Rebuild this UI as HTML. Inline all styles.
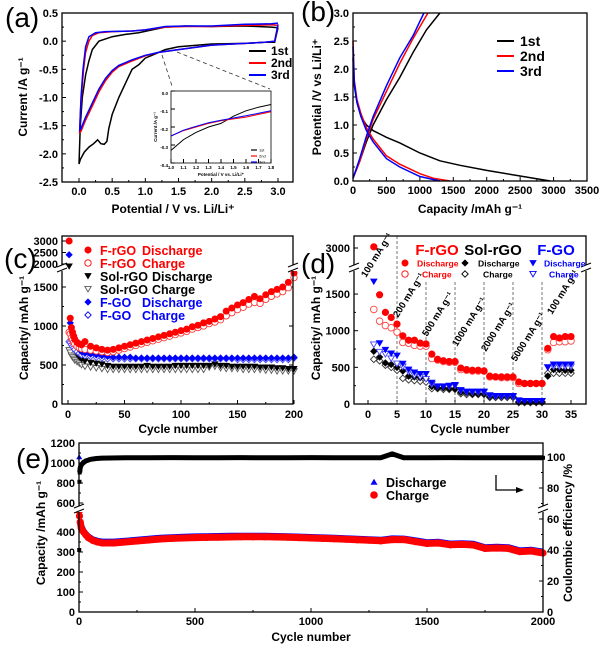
<!DOCTYPE html>
<html><head><meta charset="utf-8">
<style>
html,body{margin:0;padding:0;background:#fff;}
svg{display:block;font-family:"Liberation Sans",Arial,sans-serif;}
</style></head>
<body>
<svg id="chart" width="600" height="651" viewBox="0 0 600 651" xmlns="http://www.w3.org/2000/svg"></svg>
<script>
// ---------- Panel (a) CV data ----------
const cv1V=[3.0,2.95,2.8,2.5,2.0,1.5,1.3,1.1,1.0,0.9,0.8,0.7,0.6,0.5,0.45,0.42,0.38,0.33,0.28,0.22,0.15,0.08,0.02,0.0,0.02,0.05,0.1,0.15,0.2,0.3,0.5,0.7,0.9,1.1,1.3,1.6,2.0,2.5,2.9,3.0];
const cv1I=[0.24,-0.02,-0.02,-0.04,-0.05,-0.1,-0.15,-0.25,-0.3,-0.42,-0.5,-0.75,-1.0,-1.3,-1.55,-1.78,-1.83,-1.82,-1.75,-1.82,-1.88,-1.97,-2.1,-2.18,-1.5,-1.0,-0.6,-0.35,-0.15,0.0,0.08,0.12,0.15,0.2,0.25,0.27,0.26,0.27,0.25,0.24];
const cv2V=[3.0,2.95,2.8,2.5,2.0,1.5,1.2,1.0,0.8,0.6,0.5,0.4,0.3,0.2,0.1,0.03,0.01,0.02,0.04,0.07,0.1,0.15,0.2,0.3,0.5,0.8,1.0,1.3,1.6,2.0,2.5,2.9,3.0];
const cv2I=[0.28,0.0,-0.02,-0.04,-0.07,-0.15,-0.2,-0.26,-0.35,-0.45,-0.55,-0.7,-0.9,-1.15,-1.4,-1.6,-1.62,-1.3,-0.9,-0.5,-0.2,0.0,0.1,0.15,0.17,0.18,0.2,0.25,0.26,0.26,0.28,0.29,0.28];
const cv3V=[3.0,2.95,2.8,2.5,2.0,1.5,1.2,1.0,0.8,0.6,0.5,0.4,0.3,0.2,0.1,0.03,0.01,0.03,0.06,0.1,0.15,0.25,0.4,0.8,1.0,1.3,1.6,2.0,2.5,2.9,3.0];
const cv3I=[0.3,0.0,-0.02,-0.04,-0.07,-0.15,-0.2,-0.25,-0.33,-0.43,-0.52,-0.66,-0.85,-1.1,-1.35,-1.55,-1.58,-1.0,-0.5,-0.1,0.08,0.15,0.17,0.18,0.2,0.26,0.27,0.27,0.3,0.31,0.32];
const inV=[1.0,1.1,1.2,1.3,1.4,1.5,1.6,1.7,1.8];
const in1I=[-0.33,-0.27,-0.23,-0.2,-0.18,-0.14,-0.11,-0.09,-0.075];
const in2I=[-0.25,-0.22,-0.2,-0.18,-0.165,-0.155,-0.145,-0.13,-0.115];
const in3I=[-0.25,-0.218,-0.196,-0.176,-0.162,-0.15,-0.138,-0.124,-0.11];
// ---------- Panel (b) charge/discharge ----------
const b1dC=[0,20,60,120,200,300,500,700,1000,1300,1600,2000,2500,2950];
const b1dV=[2.2,1.7,1.4,1.15,1.0,0.9,0.78,0.68,0.5,0.36,0.28,0.19,0.09,0.0];
const b1cC=[0,100,200,300,500,700,900,1100,1300];
const b1cV=[0.05,0.35,0.7,1.0,1.45,1.85,2.3,2.7,3.0];
const b2dC=[0,20,60,120,200,300,500,700,1000,1200,1450];
const b2dV=[2.5,1.8,1.45,1.2,0.95,0.75,0.45,0.3,0.13,0.05,0.0];
const b2cC=[0,100,200,300,500,700,900,1120];
const b2cV=[0.05,0.35,0.75,1.1,1.6,2.1,2.55,3.0];
const b3dC=[0,20,60,120,200,300,500,700,1000,1300];
const b3dV=[2.4,1.75,1.4,1.15,0.9,0.7,0.4,0.25,0.08,0.0];
const b3cC=[0,100,200,300,500,700,900,1060];
const b3cV=[0.05,0.4,0.8,1.15,1.7,2.2,2.6,3.0];
// ---------- Panel (c) cycling ----------
const cCyc=[1,2,3,4,5,6,8,10,12,15,20,25,30,35,40,45,50,55,60,65,70,75,80,85,90,95,100,105,110,115,120,125,130,135,140,145,150,155,160,165,170,175,180,185,190,195,200];
const cFrD=[3000,1100,980,920,870,830,790,770,760,800,740,720,700,690,700,720,740,760,780,800,820,840,860,880,900,920,940,960,990,1010,1040,1060,1090,1120,1190,1230,1270,1300,1340,1380,1350,1400,1440,1470,1500,1560,1680];
const cFrC=[920,900,850,820,790,770,740,720,710,700,690,680,670,660,670,690,710,730,750,770,790,810,830,850,870,890,910,930,960,980,1000,1030,1050,1080,1130,1170,1210,1240,1280,1300,1290,1340,1380,1410,1440,1490,1620];
const cSoD=[1900,870,810,760,720,690,640,600,570,550,530,520,510,490,480,480,480,480,480,480,490,480,480,480,480,490,490,490,490,490,490,490,510,490,490,480,480,480,480,480,470,470,470,460,460,450,450];
const cSoC=[690,660,620,600,580,560,540,520,500,480,470,460,450,440,440,440,440,440,440,440,440,440,440,440,440,440,440,440,440,440,440,470,480,460,450,450,450,440,440,440,440,430,430,420,420,420,420];
const cFgD=[2400,1040,940,880,840,800,740,700,670,650,640,630,620,610,600,600,600,600,590,590,590,590,590,590,590,590,590,590,590,590,590,590,590,590,590,590,590,590,590,590,590,590,590,590,590,590,600];
const cFgC=[800,790,760,740,720,700,670,650,630,620,610,600,590,580,580,580,580,580,580,580,580,580,580,580,580,580,580,580,580,580,580,580,580,580,580,580,570,570,570,570,570,570,570,570,570,570,590];
// ---------- Panel (d) rate ----------
const dCyc=[1,2,3,4,5,6,7,8,9,10,11,12,13,14,15,16,17,18,19,20,21,22,23,24,25,26,27,28,29,30,31,32,33,34,35];
const dFrD=[3050,1490,1250,1180,1090,930,870,870,830,820,680,610,590,580,580,490,470,460,460,450,380,370,370,370,370,300,280,280,280,280,760,920,900,920,920];
const dFrC=[1290,1130,1070,1040,980,840,830,800,790,790,620,600,580,570,570,470,460,450,450,450,370,370,360,360,360,280,280,280,280,280,740,840,850,850,860];
const dSoD=[720,640,560,540,500,450,380,370,360,350,240,220,220,210,210,160,150,140,140,140,100,100,100,100,100,30,30,30,30,30,380,470,470,460,460];
const dSoC=[610,590,530,500,460,350,330,320,310,300,210,210,200,200,200,140,130,130,130,130,90,90,90,90,90,20,20,20,20,20,420,420,420,420,420];
const dFgD=[1670,830,740,690,660,550,470,430,410,410,290,240,240,250,260,190,170,170,170,170,120,110,110,110,110,50,40,40,40,40,500,540,540,540,540];
const dFgC=[810,710,680,620,550,510,440,390,370,340,270,240,240,240,250,180,160,160,160,160,110,100,100,100,100,40,40,40,40,40,500,510,510,510,510];
const dRates=["100 mA g\u207B\u00B9","200 mA g\u207B\u00B9","500 mA g\u207B\u00B9","1000 mA g\u207B\u00B9","2000 mA g\u207B\u00B9","5000 mA g\u207B\u00B9","100 mA g\u207B\u00B9"];
// ---------- Panel (e) long cycling ----------
const eCyc=[1,2,5,10,20,30,40,60,80,100,150,200,250,300,350,400,450,500,550,600,650,700,750,800,850,900,950,1000,1050,1100,1150,1200,1250,1300,1350,1400,1450,1500,1550,1600,1650,1700,1750,1800,1850,1900,1950,2000];
const eChg=[520,480,450,420,400,385,372,358,350,345,345,350,355,360,365,368,370,372,373,374,375,376,376,376,375,374,372,370,368,366,364,361,359,356,362,362,352,343,345,336,338,335,318,320,318,302,305,295];
const eDis=[1060,560,460,430,405,390,378,363,356,352,352,356,361,366,371,374,376,378,379,380,381,381,381,381,380,379,377,375,373,371,369,366,364,361,368,367,358,349,351,342,344,341,324,326,324,308,311,302];
const effCyc=[1,2,3,5,10,20,30,50,75,100,200,300,400,500,600,700,800,900,1000,1100,1200,1300,1350,1400,1500,1600,1700,1800,1900,2000];
const effVal=[40,84,90,93,95,96.5,97.5,98.5,99,99.3,99.5,99.5,99.6,99.5,99.5,99.6,99.5,99.5,99.6,99.5,99.5,99.5,102,99.5,99.5,99.6,99.5,99.5,99.5,99.5];

const NS='http://www.w3.org/2000/svg';
const svg=document.getElementById('chart');
function el(tag,attrs,name,parent){
  const e=document.createElementNS(NS,tag);
  for(const k in attrs) e.setAttribute(k,attrs[k]);
  
  
  (parent||svg).appendChild(e);
  return e;
}
function txt(x,y,s,attrs,name,parent){
  const a=Object.assign({x:x,y:y,'font-size':11,'font-weight':'bold',fill:'#000'},attrs||{});
  const t=el('text',a,name,parent);
  t.textContent=s;
  return t;
}
function g(name){return el('g',{},name);}
function frame(x1,y1,x2,y2,name,parent){
  return el('rect',{x:x1,y:y1,width:x2-x1,height:y2-y1,fill:'none',stroke:'#000','stroke-width':1.3},name,parent);
}
function poly(xs,ys,fx,fy,attrs,name,parent){
  const pts=xs.map((v,i)=>fx(v).toFixed(1)+','+fy(ys[i]).toFixed(1)).join(' ');
  return el('polyline',Object.assign({points:pts,fill:'none'},attrs),name,parent);
}
function xTicks(vals,fx,yb,labY,labels,minor,name,parent,fs){
  vals.forEach((v,i)=>{
    el('line',{x1:fx(v),x2:fx(v),y1:yb,y2:yb-4,stroke:'#000','stroke-width':1},name+'-tick',parent);
    if(labels) txt(fx(v),labY,labels[i],{'text-anchor':'middle','font-size':fs||11},name+'-label',parent);
  });
  (minor||[]).forEach(v=>{
    el('line',{x1:fx(v),x2:fx(v),y1:yb,y2:yb-2,stroke:'#000','stroke-width':1},name+'-minor-tick',parent);
  });
}
function yTicks(vals,fy,xl,labX,labels,minor,name,parent,fs,dir,anchor){
  const d=dir||1;
  vals.forEach((v,i)=>{
    el('line',{x1:xl,x2:xl+4*d,y1:fy(v),y2:fy(v),stroke:'#000','stroke-width':1},name+'-tick',parent);
    if(labels) txt(labX,fy(v)+4,labels[i],{'text-anchor':anchor||'end','font-size':fs||11},name+'-label',parent);
  });
  (minor||[]).forEach(v=>{
    el('line',{x1:xl,x2:xl+2*d,y1:fy(v),y2:fy(v),stroke:'#000','stroke-width':1},name+'-minor-tick',parent);
  });
}
function vtitle(x,y,s,name,parent,fs){
  const t=txt(x,y,s,{'text-anchor':'middle','font-size':fs||12,transform:'rotate(-90 '+x+' '+y+')'},name,parent);
  return t;
}
function brk(x,y,name,parent){
  el('rect',{x:x-4,y:y-3,width:8,height:6,fill:'#fff'},name+'-gap',parent);
  el('line',{x1:x-5,y1:y-1,x2:x+5,y2:y-5,stroke:'#000','stroke-width':1.2},name+'-mark',parent);
  el('line',{x1:x-5,y1:y+4,x2:x+5,y2:y,stroke:'#000','stroke-width':1.2},name+'-mark',parent);
}
function marker(type,x,y,color,filled,r,name,parent){
  const f=filled?color:'#fff';
  const a={fill:f,stroke:color,'stroke-width':filled?0.6:0.9};
  if(type==='circle') return el('circle',Object.assign({cx:x,cy:y,r:r},a),name,parent);
  let p;
  if(type==='tridown') p=[[x-r,y-r*0.8],[x+r,y-r*0.8],[x,y+r*0.9]];
  else if(type==='triup') p=[[x-r,y+r*0.8],[x+r,y+r*0.8],[x,y-r*0.9]];
  else p=[[x,y-r],[x+r,y],[x,y+r],[x-r,y]];
  return el('polygon',Object.assign({points:p.map(q=>q.join(',')).join(' ')},a),name,parent);
}

// ================= Panel (a) =================
(function(){
  const P=g('panel-a-cv');
  const fx=v=>79+v*66.33, fy=v=>182-(v+2.5)*56.33;
  txt(5,27,'(a)',{'font-size':28,'font-weight':'normal'},'panel-label-a',P);
  frame(62,13,293,182,'plot-frame-a',P);
  xTicks([0,0.5,1,1.5,2,2.5,3],fx,182,195,['0.0','0.5','1.0','1.5','2.0','2.5','3.0'],[0.25,0.75,1.25,1.75,2.25,2.75],'x-axis-a',P);
  yTicks([-2.5,-2,-1.5,-1,-0.5,0,0.5],fy,62,58,['-2.5','-2.0','-1.5','-1.0','-0.5','0.0','0.5'],[-2.25,-1.75,-1.25,-0.75,-0.25,0.25],'y-axis-a',P);
  txt(173,213,'Potential / V vs. Li/Li\u207A',{'text-anchor':'middle','font-size':12},'x-axis-title-a',P);
  vtitle(27,97,'Current /A g\u207B\u00B9','y-axis-title-a',P);
  poly(cv1V,cv1I,fx,fy,{stroke:'#000','stroke-width':1.5},'cv-line-1st',P);
  poly(cv2V,cv2I,fx,fy,{stroke:'#f00','stroke-width':1.5},'cv-line-2nd',P);
  poly(cv3V,cv3I,fx,fy,{stroke:'#00f','stroke-width':1.5},'cv-line-3rd',P);
  const lg=[['1st','#000'],['2nd','#f00'],['3rd','#00f']];
  lg.forEach((l,i)=>{
    el('line',{x1:249,x2:266,y1:51+i*12,y2:51+i*12,stroke:l[1],'stroke-width':2},'legend-line-a',P);
    txt(271,55+i*12,l[0],{'font-size':12},'legend-label-a',P);
  });
  el('line',{x1:162,y1:55,x2:172,y2:86,stroke:'#333','stroke-width':0.8,'stroke-dasharray':'4,3'},'zoom-guide-line',P);
  el('line',{x1:177,y1:52,x2:270,y2:89,stroke:'#333','stroke-width':0.8,'stroke-dasharray':'4,3'},'zoom-guide-line',P);
  const ix=v=>171+(v-1)*125, iy=v=>91-v*180;
  el('rect',{x:171,y:91,width:100,height:72,fill:'#fff',stroke:'#000','stroke-width':0.8},'inset-frame',P);
  xTicks([1,1.1,1.2,1.3,1.4,1.5,1.6,1.7,1.8],ix,163,169,['1.0','1.1','1.2','1.3','1.4','1.5','1.6','1.7','1.8'],null,'inset-x-axis',P,4.5);
  yTicks([-0.4,-0.3,-0.2,-0.1,0],iy,171,168,['-0.4','-0.3','-0.2','-0.1','0.0'],null,'inset-y-axis',P,4.5);
  txt(221,176,'Potential / V vs. Li/Li\u207A',{'text-anchor':'middle','font-size':4.5},'inset-x-title',P);
  vtitle(157,127,'Current /A g\u207B\u00B9','inset-y-title',P,4.5);
  poly(inV,in1I,ix,iy,{stroke:'#000','stroke-width':1},'inset-line-1st',P);
  poly(inV,in2I,ix,iy,{stroke:'#f00','stroke-width':1},'inset-line-2nd',P);
  poly(inV,in3I,ix,iy,{stroke:'#00f','stroke-width':1},'inset-line-3rd',P);
  lg.forEach((l,i)=>{
    el('line',{x1:251,x2:257,y1:150+i*6,y2:150+i*6,stroke:l[1],'stroke-width':1.2},'inset-legend-line',P);
    txt(259,151.5+i*6,l[0],{'font-size':4,'font-weight':'normal'},'inset-legend-label',P);
  });
})();

// ================= Panel (b) =================
(function(){
  const P=g('panel-b-charge-discharge');
  const fx=v=>353+v*234/3500, fy=v=>181-v*56;
  txt(301,21,'(b)',{'font-size':28,'font-weight':'normal'},'panel-label-b',P);
  xTicks([0,500,1000,1500,2000,2500,3000,3500],fx,181,194,['0','500','1000','1500','2000','2500','3000','3500'],[250,750,1250,1750,2250,2750,3250],'x-axis-b',P);
  yTicks([0,0.5,1,1.5,2,2.5,3],fy,353,349,['0.0','0.5','1.0','1.5','2.0','2.5','3.0'],[0.25,0.75,1.25,1.75,2.25,2.75],'y-axis-b',P);
  txt(470,213,'Capacity /mAh g\u207B\u00B9',{'text-anchor':'middle','font-size':12},'x-axis-title-b',P);
  vtitle(321,97,'Potential /V vs Li/Li\u207A','y-axis-title-b',P);
  poly(b1dC,b1dV,fx,fy,{stroke:'#000','stroke-width':1.5},'discharge-1st',P);
  poly(b1cC,b1cV,fx,fy,{stroke:'#000','stroke-width':1.5},'charge-1st',P);
  poly(b2dC,b2dV,fx,fy,{stroke:'#f00','stroke-width':1.5},'discharge-2nd',P);
  poly(b2cC,b2cV,fx,fy,{stroke:'#f00','stroke-width':1.5},'charge-2nd',P);
  poly(b3dC,b3dV,fx,fy,{stroke:'#00f','stroke-width':1.5},'discharge-3rd',P);
  poly(b3cC,b3cV,fx,fy,{stroke:'#00f','stroke-width':1.5},'charge-3rd',P);
  frame(353,13,587,181,'plot-frame-b',P);
  [['1st','#000'],['2nd','#f00'],['3rd','#00f']].forEach((l,i)=>{
    el('line',{x1:497,x2:514,y1:41+i*15,y2:41+i*15,stroke:l[1],'stroke-width':2},'legend-line-b',P);
    txt(520,46+i*15,l[0],{'font-size':14},'legend-label-b',P);
  });
})();

// ================= Panel (c) =================
(function(){
  const P=g('panel-c-cycling');
  const fx=v=>68+v*1.13;
  const fy=v=>v<=1750?404-v*0.078:264-(v-2000)*0.023;
  txt(4,268,'(c)',{'font-size':28,'font-weight':'normal'},'panel-label-c',P);
  xTicks([0,50,100,150,200],fx,404,418,['0','50','100','150','200'],[25,75,125,175],'x-axis-c',P);
  yTicks([0,500,1000,1500,2000,2500,3000],fy,62,58,['0','500','1000','1500','2000','2500','3000'],[250,750,1250],'y-axis-c',P);
  el('line',{x1:293,x2:289,y1:fy(500),y2:fy(500),stroke:'#000'},'right-tick-c',P);
  el('line',{x1:293,x2:289,y1:fy(1000),y2:fy(1000),stroke:'#000'},'right-tick-c',P);
  el('line',{x1:293,x2:289,y1:fy(1500),y2:fy(1500),stroke:'#000'},'right-tick-c',P);
  txt(178,433,'Cycle number',{'text-anchor':'middle','font-size':12},'x-axis-title-c',P);
  vtitle(28,328,'Capacity/ mAh g\u207B\u00B9','y-axis-title-c',P);
  const S=[[cSoC,'tridown','#555',false],[cSoD,'tridown','#000',true],[cFgC,'diamond','#44f',false],[cFgD,'diamond','#00f',true],[cFrC,'circle','#f33',false],[cFrD,'circle','#f00',true]];
  const names=['sol-rgo-charge','sol-rgo-discharge','f-go-charge','f-go-discharge','f-rgo-charge','f-rgo-discharge'];
  S.forEach((s,k)=>{
    cCyc.forEach((c,i)=>{ marker(s[1],fx(c),fy(s[0][i]),s[2],s[3],3.2,names[k]+'-point',P); });
  });
  frame(62,236,293,404,'plot-frame-c',P);
  brk(62,268,'axis-break-c-left',P); brk(293,268,'axis-break-c-right',P);
  const L=[['F-rGO','Discharge','#f00','circle',true],['F-rGO','Charge','#f00','circle',false],['Sol-rGO','Discharge','#000','tridown',true],['Sol-rGO','Charge','#555','tridown',false],['F-GO','Discharge','#00f','diamond',true],['F-GO','Charge','#00f','diamond',false]];
  L.forEach((l,i)=>{
    const y=250+i*13;
    marker(l[3],88,y,l[2],l[4],3.2,'legend-marker-c',P);
    const col=l[2]==='#555'?'#000':l[2];
    txt(100,y+5,l[0],{'font-size':12.5,fill:col},'legend-label-c',P);
    txt(l[0]==='Sol-rGO'?152:142,y+5,l[1],{'font-size':12.5,fill:col},'legend-label-c',P);
  });
})();

// ================= Panel (d) =================
(function(){
  const P=g('panel-d-rate');
  const fx=v=>368+v*5.8;
  const fy=v=>v<=1850?404-v*0.0733:248-(v-3000)*0.023;
  txt(301,273,'(d)',{'font-size':28,'font-weight':'normal'},'panel-label-d',P);
  xTicks([0,5,10,15,20,25,30,35],fx,404,418,['0','5','10','15','20','25','30','35'],null,'x-axis-d',P);
  yTicks([0,500,1000,1500,3000],fy,354,350,['0','500','1000','1500','3000'],[250,750,1250],'y-axis-d',P);
  txt(470,433,'Cycle number',{'text-anchor':'middle','font-size':12},'x-axis-title-d',P);
  vtitle(320,328,'Capacity/ mAh g\u207B\u00B9','y-axis-title-d',P);
  [5,10,15,20,25,30].forEach((c,i)=>{
    el('line',{x1:fx(c),x2:fx(c),y1:i===0?236:282,y2:404,stroke:'#666','stroke-width':0.9,'stroke-dasharray':'3,2'},'rate-divider',P);
  });
  const rp=[[366,278],[398,318],[427,337],[457,347],[486,352],[516,362],[552,315]];
  dRates.forEach((r,i)=>{
    txt(rp[i][0],rp[i][1],r,{'font-size':9.5,transform:'rotate(-58 '+rp[i][0]+' '+rp[i][1]+')'},'rate-label',P);
  });
  const S=[[dSoC,'diamond','#333',false],[dSoD,'diamond','#000',true],[dFgC,'tridown','#44f',false],[dFgD,'tridown','#00f',true],[dFrC,'circle','#f44',false],[dFrD,'circle','#f00',true]];
  const names=['sol-rgo-charge','sol-rgo-discharge','f-go-charge','f-go-discharge','f-rgo-charge','f-rgo-discharge'];
  S.forEach((s,k)=>{
    dCyc.forEach((c,i)=>{ marker(s[1],fx(c),fy(s[0][i]),s[2],s[3],3.3,names[k]+'-point',P); });
  });
  frame(354,236,586,404,'plot-frame-d',P);
  brk(354,268,'axis-break-d-left',P); brk(586,268,'axis-break-d-right',P);
  txt(437,255,'F-rGO',{'text-anchor':'middle','font-size':15,fill:'#f00'},'legend-title-frgo',P);
  txt(493,255,'Sol-rGO',{'text-anchor':'middle','font-size':15},'legend-title-solrgo',P);
  txt(556,255,'F-GO',{'text-anchor':'middle','font-size':15,fill:'#00f'},'legend-title-fgo',P);
  const cols=[[405,'circle','#f00',417,422],[465,'diamond','#000',478,483],[533,'tridown','#00f',544,549]];
  cols.forEach(c=>{
    marker(c[1],c[0],263,c[2],true,3.2,'legend-marker-d',P);
    marker(c[1],c[0],274,c[2],false,3.2,'legend-marker-d',P);
    txt(c[3],266.5,'Discharge',{'font-size':8.6,fill:c[2]},'legend-label-d',P);
    txt(c[4],277.5,'Charge',{'font-size':8.6,fill:c[2]},'legend-label-d',P);
  });
})();

// ================= Panel (e) =================
(function(){
  const P=g('panel-e-long-cycling');
  const fx=v=>79+v*0.232;
  const fy=v=>v<=500?612-v*0.2:443+(1200-v)*0.1;
  const fr=v=>612-v*1.55;
  txt(16,468,'(e)',{'font-size':28,'font-weight':'normal'},'panel-label-e',P);
  xTicks([0,500,1000,1500,2000],fx,612,625,['0','500','1000','1500','2000'],[250,750,1250,1750],'x-axis-e',P);
  yTicks([0,100,200,300,400,600,800,1000,1200],fy,79,75,['0','100','200','300','400','600','800','1000','1200'],[50,150,250,350,450,700,900,1100],'y-axis-left-e',P);
  yTicks([0,20,40,60,80,100],fr,543,547,['0','20','40','60','80','100'],[10,30,50,70,90],'y-axis-right-e',P,11,-1,'start');
  txt(311,641,'Cycle number',{'text-anchor':'middle','font-size':12},'x-axis-title-e',P);
  vtitle(45,533,'Capacity /mAh g\u207B\u00B9','y-axis-title-left-e',P);
  txt(572,533,'Coulombic efficiency /%',{'text-anchor':'middle','font-size':12,transform:'rotate(-90 572 533)'},'y-axis-title-right-e',P);
  poly(effCyc.slice(2),effVal.slice(2),fx,fr,{stroke:'#000','stroke-width':5,'stroke-linejoin':'round'},'coulombic-efficiency-line',P);
  effCyc.forEach((c,i)=>{ el('rect',{x:fx(c)-2,y:fr(effVal[i])-2,width:4,height:4,fill:'#000'},'coulombic-efficiency-point',P); });
  poly(eCyc.slice(2),eDis.slice(2),fx,fy,{stroke:'#00f','stroke-width':6,'stroke-linejoin':'round'},'discharge-line-e',P);
  poly(eCyc.slice(2),eChg.slice(2),fx,fy,{stroke:'#f00','stroke-width':7,'stroke-linejoin':'round'},'charge-line-e',P);
  eCyc.forEach((c,i)=>{ marker('triup',fx(c),fy(eDis[i]),'#00f',true,2.5,'discharge-point-e',P); });
  eCyc.forEach((c,i)=>{ marker('circle',fx(c),fy(eChg[i]),'#f00',true,3.3,'charge-point-e',P); });
  frame(79,443,543,612,'plot-frame-e',P);
  brk(79,509,'axis-break-e-left',P); brk(543,509,'axis-break-e-right',P);
  marker('triup',374,482,'#00f',true,3,'legend-marker-discharge-e',P);
  txt(386,487,'Discharge',{'font-size':12.5},'legend-label-discharge-e',P);
  marker('circle',374,495,'#f00',true,3.5,'legend-marker-charge-e',P);
  txt(386,500,'Charge',{'font-size':12.5},'legend-label-charge-e',P);
  el('polyline',{points:'496,475 496,490 517,490',fill:'none',stroke:'#000','stroke-width':1.3},'axis-arrow',P);
  el('polygon',{points:'516,487 524,490 516,493',fill:'#000'},'axis-arrowhead',P);
})();
</script>
</body></html>
